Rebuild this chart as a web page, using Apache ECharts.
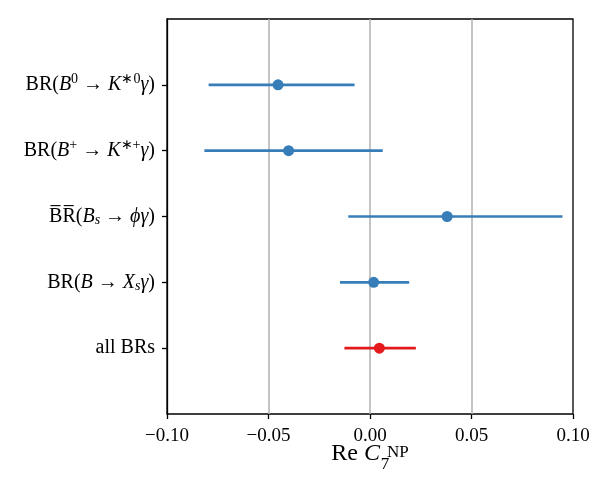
<!DOCTYPE html>
<html>
<head>
<meta charset="utf-8">
<script src="https://cdn.jsdelivr.net/npm/echarts@6/dist/echarts.min.js"></script>
<style>
  html, body { margin: 0; padding: 0; background: #fff; }
  #chart { width: 602px; height: 491px; }
</style>
</head>
<body>
<div id="chart"></div>
<script>
// observables (top to bottom), rich text labels
var labels = [
    '{n|BR(}{i|B}{sup|0}{n| → }{i|K}{sup|∗0}{i|γ}{n|)}',
    '{n|BR(}{i|B}{sup|+}{n| → }{i|K}{sup|∗+}{i|γ}{n|)}',
    '{n|B̅R̅(}{i|B}{sub|s}{n| → }{i|ϕγ}{n|)}',
    '{n|BR(}{i|B}{n| → }{i|X}{sub|s}{i|γ}{n|)}',
    '{n|all BRs}'
];
// best fit values and 1 sigma intervals of Re C7NP
var centers = [-0.0453, -0.0401, 0.0380, 0.0018, 0.0046];
var lows = [-0.0795, -0.0816, -0.0107, -0.0148, -0.0126];
var highs = [-0.0076, 0.0063, 0.0948, 0.0193, 0.0226];
var colors = ['#377eb8', '#377eb8', '#377eb8', '#377eb8', '#e41a1c'];
var xTicks = [-0.10, -0.05, 0.00, 0.05, 0.10];

var serif = 'Liberation Serif';
var rich = {
    n: { fontFamily: serif, fontSize: 20, color: '#000' },
    i: { fontFamily: serif, fontSize: 20, fontStyle: 'italic', color: '#000' },
    sup: { fontFamily: serif, fontSize: 14, color: '#000', padding: [0, 0, 11, 0] },
    sub: { fontFamily: serif, fontSize: 14, fontStyle: 'italic', color: '#000', padding: [8, 0, 0, 0] }
};

// padded category axis: empty slot above and below
var yCats = [''].concat(labels).concat(['']);

var errData = [], ptData = [];
for (var k = 0; k < centers.length; k++) {
    errData.push([lows[k], highs[k], k + 1]);
    ptData.push({ value: [centers[k], k + 1], itemStyle: { color: colors[k], opacity: 1 } });
}

var myChart = echarts.init(document.getElementById('chart'));
myChart.setOption({
    animation: false,
    grid: {
        left: 167, right: 29, top: 19, bottom: 77,
        show: true, borderColor: '#000', borderWidth: 1.3
    },
    xAxis: {
        type: 'value',
        min: xTicks[0], max: xTicks[xTicks.length - 1], interval: 0.05,
        axisLine: { onZero: false, lineStyle: { color: '#000', width: 1.3 } },
        axisTick: { show: true, length: 5, lineStyle: { color: '#000', width: 1.3 } },
        axisLabel: {
            margin: 13, color: '#000', fontFamily: serif, fontSize: 19,
            formatter: function (v) {
                return (v < -1e-9 ? '−' : '') + Math.abs(v).toFixed(2);
            }
        },
        splitLine: {
            show: true, showMinLine: false, showMaxLine: false,
            lineStyle: { color: '#b0b0b0', width: 1.5 }
        },
        name: '{n|Re }{i|C}{sub|7}{sup|NP}',
        nameLocation: 'middle',
        nameGap: 20,
        nameMoveOverlap: false,
        nameTextStyle: {
            rich: {
                n: { fontFamily: serif, fontSize: 24, color: '#000' },
                i: { fontFamily: serif, fontSize: 24, fontStyle: 'italic', color: '#000' },
                sup: { fontFamily: serif, fontSize: 17, color: '#000', padding: [0, 0, 2, 0] },
                sub: { fontFamily: serif, fontSize: 17, color: '#000', padding: [22, 0, 0, 3], width: 4, align: 'left' }
            }
        }
    },
    yAxis: {
        type: 'category',
        data: yCats,
        inverse: true,
        boundaryGap: false,
        axisLine: { onZero: false, lineStyle: { color: '#000', width: 1.3 } },
        axisTick: {
            show: true, length: 5, lineStyle: { color: '#000', width: 1.3 },
            interval: function (idx) { return idx > 0 && idx < yCats.length - 1; }
        },
        axisLabel: {
            margin: 12, color: '#000', rich: rich,
            interval: function (idx) { return idx > 0 && idx < yCats.length - 1; }
        },
        splitLine: { show: false }
    },
    series: [
        {
            type: 'custom',
            data: errData,
            renderItem: function (params, api) {
                var a = api.coord([api.value(0), api.value(2)]);
                var b = api.coord([api.value(1), api.value(2)]);
                return {
                    type: 'line',
                    shape: { x1: a[0], y1: a[1], x2: b[0], y2: b[1] },
                    style: { stroke: colors[params.dataIndex], lineWidth: 2.6 }
                };
            },
            z: 2
        },
        {
            type: 'scatter',
            data: ptData,
            symbol: 'circle',
            symbolSize: 11,
            z: 3
        }
    ]
});
window.onresize = function () {
    myChart.resize();
};
</script>
</body>
</html>
